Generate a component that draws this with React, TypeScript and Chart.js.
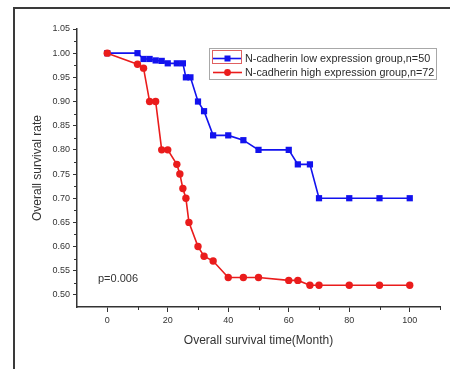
import React, { useEffect, useRef } from "react";
import { Chart, registerables } from "chart.js";

Chart.register(...registerables);

const lowTimes = [0, 10, 12, 14, 16, 18, 20, 23, 25, 26, 27.5, 30, 32, 35, 40, 45, 50, 60, 63, 67, 70, 80, 90, 100];
const lowRates = [1.0, 1.0, 0.988, 0.988, 0.985, 0.984, 0.979, 0.979, 0.979, 0.95, 0.95, 0.9, 0.88, 0.83, 0.83, 0.82, 0.8, 0.8, 0.77, 0.77, 0.7, 0.7, 0.7, 0.7];
const highTimes = [0, 10, 12, 14, 16, 18, 20, 23, 24, 25, 26, 27, 30, 32, 35, 40, 45, 50, 60, 63, 67, 70, 80, 90, 100];
const highRates = [1.0, 0.977, 0.969, 0.9, 0.9, 0.8, 0.8, 0.77, 0.75, 0.72, 0.7, 0.65, 0.6, 0.58, 0.57, 0.536, 0.536, 0.536, 0.53, 0.53, 0.52, 0.52, 0.52, 0.52, 0.52];

const xTicks = [0, 20, 40, 60, 80, 100];
const xMinorTicks = [10, 30, 50, 70, 90, 110];
const yTicks = [0.5, 0.55, 0.6, 0.65, 0.7, 0.75, 0.8, 0.85, 0.9, 0.95, 1.0, 1.05];
const yMinorTicks = [0.525, 0.575, 0.625, 0.675, 0.725, 0.775, 0.825, 0.875, 0.925, 0.975, 1.025];

const lowLabel = "N-cadherin low expression group,n=50";
const highLabel = "N-cadherin high expression group,n=72";
const pText = "p=0.006";
const xTitle = "Overall survival time(Month)";
const yTitle = "Overall survival rate";

const BLUE = "#1212ee";
const RED = "#ea1c1c";
const AXIS = "#333333";
const FONT = "'Liberation Sans', Arial, sans-serif";

const decorPlugin = {
  id: "decor",
  beforeDraw(chart: any) {
    const ctx = chart.ctx;
    ctx.save();
    ctx.fillStyle = "#ffffff";
    ctx.fillRect(0, 0, chart.width, chart.height);
    ctx.strokeStyle = "#3a3a3a";
    ctx.lineWidth = 2;
    ctx.beginPath();
    ctx.moveTo(14, 369);
    ctx.lineTo(14, 8);
    ctx.lineTo(450, 8);
    ctx.stroke();
    ctx.restore();
  },
  afterDraw(chart: any) {
    const ctx = chart.ctx;
    const xs = chart.scales.x;
    const ys = chart.scales.y;
    const area = chart.chartArea;
    ctx.save();
    ctx.strokeStyle = AXIS;
    ctx.lineWidth = 1;
    ctx.beginPath();
    for (const v of xMinorTicks) {
      const px = Math.round(xs.getPixelForValue(v)) + 0.5;
      ctx.moveTo(px, area.bottom);
      ctx.lineTo(px, area.bottom + 3);
    }
    for (const v of yMinorTicks) {
      const py = Math.round(ys.getPixelForValue(v)) + 0.5;
      ctx.moveTo(area.left, py);
      ctx.lineTo(area.left - 3, py);
    }
    ctx.stroke();

    ctx.fillStyle = "#333";
    ctx.font = `11px ${FONT}`;
    ctx.textBaseline = "middle";
    ctx.textAlign = "left";
    ctx.fillText(pText, 98, 279);

    const bx = 209.5, by = 48.5, bw = 227, bh = 31;
    ctx.fillStyle = "#ffffff";
    ctx.fillRect(bx, by, bw, bh);
    ctx.strokeStyle = "#a8a8a8";
    ctx.lineWidth = 1;
    ctx.strokeRect(bx, by, bw, bh);

    const rows = [
      { label: chart.data.datasets[0].label, color: BLUE, style: "rect", y: 58.5 },
      { label: chart.data.datasets[1].label, color: RED, style: "circle", y: 72.5 },
    ];
    for (const r of rows) {
      ctx.strokeStyle = r.color;
      ctx.lineWidth = 1.6;
      ctx.beginPath();
      ctx.moveTo(213, r.y);
      ctx.lineTo(242, r.y);
      ctx.stroke();
      ctx.fillStyle = r.color;
      if (r.style === "rect") {
        ctx.fillRect(227.5 - 3, r.y - 3, 6, 6);
      } else {
        ctx.beginPath();
        ctx.arc(227.5, r.y, 3.4, 0, Math.PI * 2);
        ctx.fill();
      }
      ctx.fillStyle = "#2a2a2a";
      ctx.font = `10.8px ${FONT}`;
      ctx.textBaseline = "middle";
      ctx.textAlign = "left";
      ctx.fillText(r.label, 245, r.y + 0.5);
    }
    ctx.strokeStyle = "#e06060";
    ctx.lineWidth = 1;
    ctx.strokeRect(212.5, 50.5, 29, 13);
    ctx.restore();
  },
};

export default function App() {
  const ref = useRef<HTMLCanvasElement | null>(null);

  useEffect(() => {
    if (!ref.current) return;
    const lowData = lowTimes.map((t, i) => ({ x: t, y: lowRates[i] }));
    const highData = highTimes.map((t, i) => ({ x: t, y: highRates[i] }));

    const chart = new Chart(ref.current, {
      type: "line",
      data: {
        datasets: [
          {
            label: lowLabel,
            data: lowData,
            borderColor: BLUE,
            backgroundColor: BLUE,
            borderWidth: 1.6,
            pointStyle: "rect",
            pointRadius: 4.4,
            pointBorderWidth: 0,
            tension: 0,
            order: 1,
          },
          {
            label: highLabel,
            data: highData,
            borderColor: RED,
            backgroundColor: RED,
            borderWidth: 1.6,
            pointStyle: "circle",
            pointRadius: 3.7,
            pointBorderWidth: 0,
            tension: 0,
            order: 0,
          },
        ],
      },
      options: {
        responsive: false,
        animation: false,
        layout: { padding: { left: 0, right: 10, top: 29, bottom: 0 } },
        plugins: {
          legend: { display: false },
          tooltip: { enabled: false },
        },
        scales: {
          x: {
            type: "linear",
            min: -10,
            max: 110,
            afterBuildTicks: (s: any) => {
              s.ticks = xTicks.map((v) => ({ value: v }));
            },
            afterFit: (s: any) => {
              s.height = 62;
            },
            grid: {
              drawOnChartArea: false,
              drawTicks: true,
              tickLength: 5,
              tickColor: AXIS,
              lineWidth: 1,
            },
            border: { display: true, color: AXIS, width: 1.5 },
            ticks: {
              color: "#333",
              font: { family: FONT, size: 9 },
              padding: 3,
              maxRotation: 0,
              autoSkip: false,
              callback: (v: any) => String(v),
            },
            title: {
              display: true,
              text: xTitle,
              color: "#333",
              font: { family: FONT, size: 12 },
              padding: { top: 2, bottom: 21 },
            },
          },
          y: {
            type: "linear",
            min: 0.475,
            max: 1.05,
            afterBuildTicks: (s: any) => {
              s.ticks = yTicks.map((v) => ({ value: v }));
            },
            afterFit: (s: any) => {
              s.width = 77;
            },
            grid: {
              drawOnChartArea: false,
              drawTicks: true,
              tickLength: 4,
              tickColor: AXIS,
              lineWidth: 1,
            },
            border: { display: true, color: AXIS, width: 1.5 },
            ticks: {
              color: "#333",
              font: { family: FONT, size: 9 },
              padding: 3,
              autoSkip: false,
              callback: (v: any) => Number(v).toFixed(2),
            },
            title: {
              display: true,
              text: yTitle,
              color: "#333",
              font: { family: FONT, size: 12 },
              padding: { top: 30, bottom: 2 },
            },
          },
        },
      },
      plugins: [decorPlugin],
    });

    return () => {
      chart.destroy();
    };
  }, []);

  return (
    <canvas
      ref={ref}
      width={450}
      height={369}
      style={{ position: "absolute", left: 0, top: 0, width: 450, height: 369 }}
    />
  );
}
